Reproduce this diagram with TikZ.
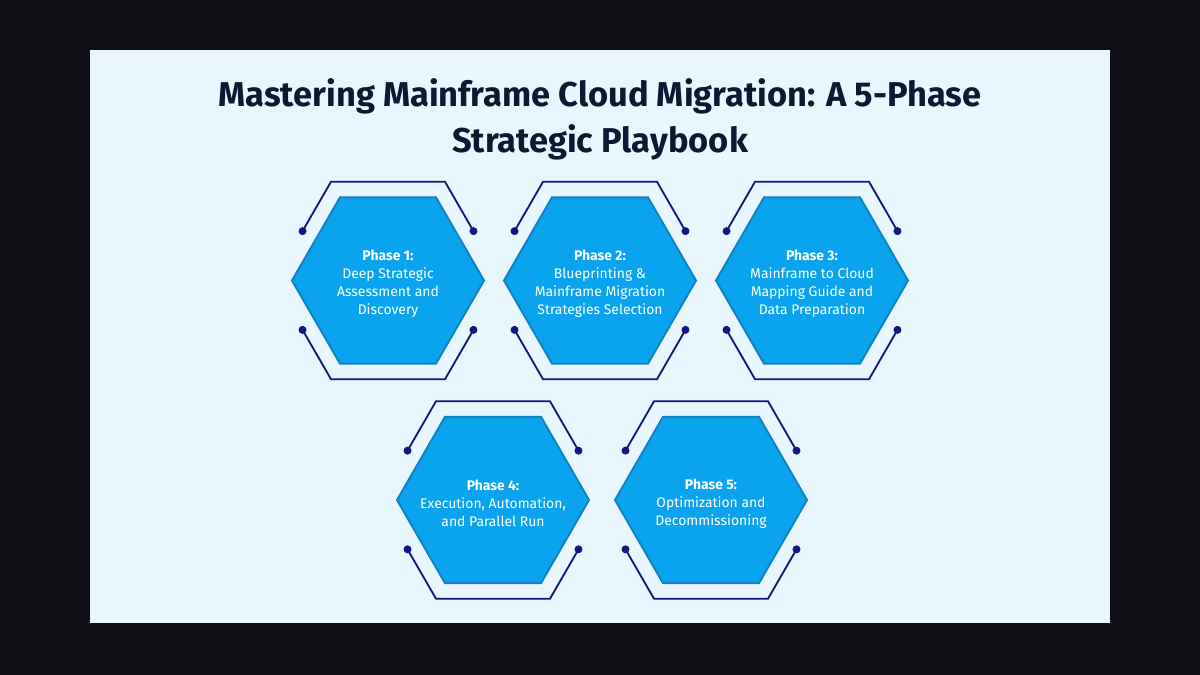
\documentclass[tikz,border=0pt]{standalone}
\usepackage{fontspec}
\setmainfont{Fira Sans}
\usepackage{tikz}

\definecolor{pagebg}{HTML}{0E1015}
\definecolor{panelbg}{HTML}{EAF6FD}
\definecolor{titleink}{HTML}{0B1A33}
\definecolor{hexfill}{HTML}{0AA4EE}
\definecolor{hexline}{HTML}{1182C4}
\definecolor{wire}{HTML}{141482}

\tikzset{
  hexshape/.style={fill=hexfill, draw=hexline, line width=1.4pt, line join=miter},
  phasetext/.style={text=white, align=center, inner sep=0pt, yshift=-0.09cm,
    font=\fontsize{9.9}{12.8}\selectfont},
  wireline/.style={draw=wire, line width=1.3pt, line join=miter},
  wiredot/.style={fill=wire}
}

\begin{document}
\begin{tikzpicture}[x=0.025cm, y=0.025cm]

% Background and panel
\fill[pagebg] (0,0) rectangle (1200,675);
\fill[panelbg] (90,52) rectangle (1110,625);

% Title
\node[font=\bfseries\fontsize{24.5}{32.7}\selectfont, text=titleink, align=center]
  (title) at (600,556) {Mastering Mainframe Cloud Migration: A 5-Phase\\Strategic Playbook};

% Hexagons with their wire brackets
\foreach \n/\cx/\cy in {1/388/394.5, 2/600/394.5, 3/812/394.5, 4/493/175, 5/711/175} {
  \coordinate (c\n) at (\cx,\cy);
  \draw[hexshape] ([shift={(0:96)}]c\n) -- ++(120:96) -- ++(180:96) -- ++(240:96)
    -- ++(300:96) -- ++(0:96) -- cycle;
  \draw[wireline] ([shift={(150:98.7)}]c\n) -- ([shift={(120:114)}]c\n)
    -- ([shift={(60:114)}]c\n) -- ([shift={(30:98.7)}]c\n);
  \draw[wireline] ([shift={(210:98.7)}]c\n) -- ([shift={(240:114)}]c\n)
    -- ([shift={(300:114)}]c\n) -- ([shift={(330:98.7)}]c\n);
  \foreach \a in {30,150,210,330}
    \fill[wiredot] ([shift={(\a:98.7)}]c\n) circle (4);
}

% Phase labels
\node[phasetext] (p1) at (c1) {\textbf{Phase 1:}\\Deep Strategic\\Assessment and\\Discovery};
\node[phasetext] (p2) at (c2) {\textbf{Phase 2:}\\Blueprinting \&\\Mainframe Migration\\Strategies Selection};
\node[phasetext] (p3) at (c3) {\textbf{Phase 3:}\\Mainframe to Cloud\\Mapping Guide and\\Data Preparation};
\node[phasetext] (p4) at (c4) {\textbf{Phase 4:}\\Execution, Automation,\\and Parallel Run};
\node[phasetext] (p5) at (c5) {\textbf{Phase 5:}\\Optimization and\\Decommissioning};

\end{tikzpicture}
\end{document}
